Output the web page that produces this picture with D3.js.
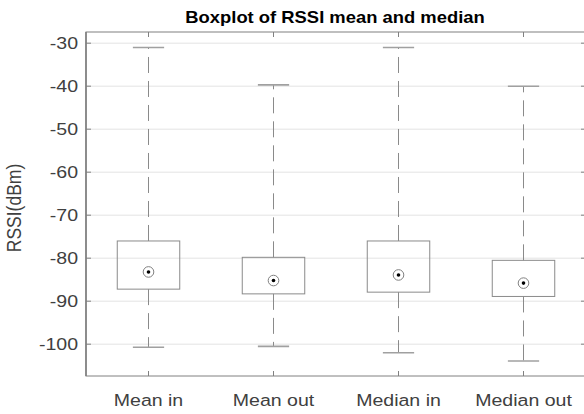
<!DOCTYPE html>
<html><head><meta charset="utf-8">
<script src="https://cdn.jsdelivr.net/npm/d3@7"></script>
<style>body{margin:0;background:#fff}</style>
</head><body>
<svg id="c" width="584" height="414"></svg>
<script>
const categories = ["Mean in", "Mean out", "Median in", "Median out"];
const whiskerHigh = [-31.0, -39.7, -31.0, -40.0];
const q3 = [-76.0, -79.8, -76.0, -80.5];
const medians = [-83.2, -85.2, -83.9, -85.8];
const q1 = [-87.2, -88.3, -87.9, -88.9];
const whiskerLow = [-100.7, -100.5, -102.0, -103.9];
const yTicks = [-100, -90, -80, -70, -60, -50, -40, -30];

const svg = d3.select("#c");
const L = 86, R = 586, T = 32, B = 376;
const SX = 1.15;
const x = d3.scaleLinear().domain([0.5, 4.5]).range([L, R]);
const y = d3.scaleLinear().domain([-107.4, -27.4]).range([B, T]);
const txt = "#404040";
const font = "'Liberation Sans', Arial, Helvetica, sans-serif";

// grid
svg.append("g").selectAll("line").data(yTicks).join("line")
  .attr("x1", L).attr("x2", R).attr("y1", d => y(d)).attr("y2", d => y(d))
  .attr("stroke", "#e3e3e3").attr("stroke-width", 1);

// axes frame
const ax = svg.append("g").attr("stroke", "#808080").attr("fill", "none");
ax.append("rect").attr("x", L).attr("y", T).attr("width", R - L).attr("height", B - T)
  .attr("stroke-width", 1);
ax.append("line").attr("x1", L).attr("x2", L).attr("y1", T).attr("y2", B).attr("stroke-width", 1.6);
// y ticks both sides
yTicks.forEach(v => {
  ax.append("line").attr("x1", L).attr("x2", L + 5).attr("y1", y(v)).attr("y2", y(v));
  ax.append("line").attr("x1", R - 5).attr("x2", R).attr("y1", y(v)).attr("y2", y(v));
});
categories.forEach((c, i) => {
  ax.append("line").attr("x1", x(i + 1)).attr("x2", x(i + 1)).attr("y1", T).attr("y2", T + 5);
  ax.append("line").attr("x1", x(i + 1)).attr("x2", x(i + 1)).attr("y1", B - 5).attr("y2", B);
});

// y tick labels
svg.append("g").selectAll("text").data(yTicks).join("text")
  .attr("transform", d => `translate(${L - 8},${y(d)}) scale(${SX},1)`)
  .attr("dy", "0.35em").attr("text-anchor", "end")
  .attr("font-family", font).attr("font-size", 17).attr("fill", txt)
  .text(d => d);

// x tick labels
svg.append("g").selectAll("text").data(categories).join("text")
  .attr("transform", (d, i) => `translate(${x(i + 1)},${B + 30}) scale(${SX},1)`)
  .attr("text-anchor", "middle")
  .attr("font-family", font).attr("font-size", 17).attr("fill", txt)
  .text(d => d);

// boxes
const gray = "#8a8a8a";
const bw = 0.25, cw = 0.125;
const g = svg.append("g");
categories.forEach((c, i) => {
  const cx = x(i + 1);
  // whiskers
  g.append("line").attr("x1", cx).attr("x2", cx).attr("y1", y(q3[i])).attr("y2", y(whiskerHigh[i]))
    .attr("stroke", gray).attr("stroke-width", 1).attr("stroke-dasharray", "16,8");
  g.append("line").attr("x1", cx).attr("x2", cx).attr("y1", y(q1[i])).attr("y2", y(whiskerLow[i]))
    .attr("stroke", gray).attr("stroke-width", 1).attr("stroke-dasharray", "16,8");
  // caps
  [whiskerHigh[i], whiskerLow[i]].forEach(v => {
    g.append("line").attr("x1", x(i + 1 - cw)).attr("x2", x(i + 1 + cw))
      .attr("y1", y(v)).attr("y2", y(v)).attr("stroke", "#a0a0a0").attr("stroke-width", 1.6);
  });
  // box
  g.append("rect").attr("x", x(i + 1 - bw)).attr("width", x(i + 1 + bw) - x(i + 1 - bw))
    .attr("y", y(q3[i])).attr("height", y(q1[i]) - y(q3[i]))
    .attr("fill", "none").attr("stroke", gray).attr("stroke-width", 1);
  // median target
  g.append("circle").attr("cx", cx).attr("cy", y(medians[i])).attr("r", 5.3)
    .attr("fill", "#fff").attr("stroke", "#808080").attr("stroke-width", 1);
  g.append("circle").attr("cx", cx).attr("cy", y(medians[i])).attr("r", 1.8).attr("fill", "#000");
});

// title
svg.append("text").attr("transform", `translate(${(L + R) / 2 - 1},23) scale(${SX},1)`)
  .attr("text-anchor", "middle").attr("font-family", font).attr("font-weight", "bold")
  .attr("font-size", 16).attr("fill", "#000").text("Boxplot of RSSI mean and median");

// y label
svg.append("text").attr("transform", `translate(20.5,${(T + B) / 2 + 4}) scale(${SX},1) rotate(-90)`)
  .attr("text-anchor", "middle").attr("font-family", font)
  .attr("font-size", 17.5).attr("fill", txt).text("RSSI(dBm)");
</script>
</body></html>
